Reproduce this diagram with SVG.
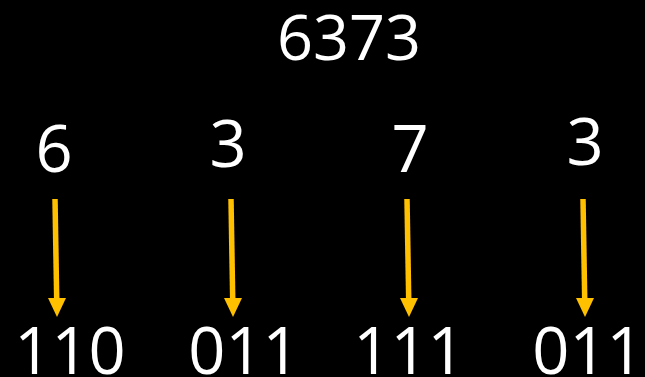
<svg xmlns="http://www.w3.org/2000/svg" width="645" height="377" viewBox="0 0 645 377">
  <style>
    .num { fill: #ffffff; font-family: "Open Sans", "Liberation Sans", sans-serif; text-anchor: middle; }
    .big { font-size: 63px; }
    .mid { font-size: 65px; }
    .shaft { stroke: #ffc000; stroke-width: 5.5; fill: none; }
    .head { fill: #ffc000; }
  </style>
  <rect width="645" height="377" fill="#000000"/>

  <g id="number"><text class="num big" x="349" y="60">6373</text></g>

  <g id="digit-6"><text class="num mid" x="54" y="172">6</text></g>
  <g id="digit-3a"><text class="num mid" x="228" y="167">3</text></g>
  <g id="digit-7"><text class="num mid" x="410" y="172">7</text></g>
  <g id="digit-3b"><text class="num mid" x="585" y="165">3</text></g>

  <g id="bin-110"><text class="num mid" x="70" y="374">110</text></g>
  <g id="bin-011a"><text class="num mid" x="244" y="374">011</text></g>
  <g id="bin-111"><text class="num mid" x="409" y="374">111</text></g>
  <g id="bin-011b"><text class="num mid" x="588" y="374">011</text></g>

  <g id="connectors">
    <line class="shaft" x1="55" y1="199" x2="56.7" y2="299"/>
    <polygon class="head" points="48,298 66,298 57,317"/>
    <line class="shaft" x1="231" y1="199" x2="232.7" y2="299"/>
    <polygon class="head" points="224,298 242,298 233,317"/>
    <line class="shaft" x1="407" y1="199" x2="408.7" y2="299"/>
    <polygon class="head" points="400,298 418,298 409,317"/>
    <line class="shaft" x1="583" y1="199" x2="584.7" y2="299"/>
    <polygon class="head" points="576,298 594,298 585,317"/>
  </g>
</svg>
